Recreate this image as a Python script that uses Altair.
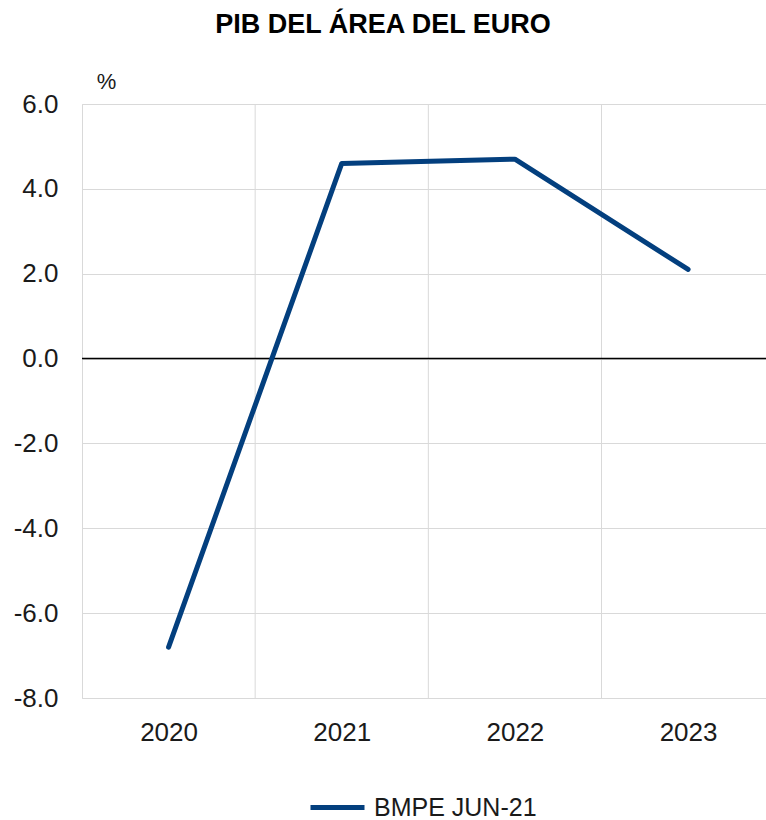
import altair as alt
import pandas as pd

# Euro area GDP growth, June 2021 projections
years = [2020, 2021, 2022, 2023]
gdp_growth = [-6.8, 4.6, 4.7, 2.1]
series_name = "BMPE JUN-21"
year_dividers = [2020.5, 2021.5, 2022.5]

df = pd.DataFrame({"year": years, "value": gdp_growth, "series": series_name})
dividers = pd.DataFrame({"x": year_dividers})
zero = pd.DataFrame({"y": [0]})

FONT = "Liberation Sans"
GRID = "#d9d9d9"
BLUE = "#033f7e"

x_scale = alt.Scale(domain=[2019.5, 2023.45], nice=False, zero=False)
y_scale = alt.Scale(domain=[-8, 6], nice=False)

line = alt.Chart(df).mark_line(strokeWidth=5, strokeCap="round", strokeJoin="round").encode(
    x=alt.X("year:Q", scale=x_scale,
            axis=alt.Axis(values=years, format="d", grid=False, ticks=False, domain=False,
                          labelFont=FONT, labelFontSize=26, labelColor="#1a1a1a",
                          labelPadding=21, title=None)),
    y=alt.Y("value:Q", scale=y_scale,
            axis=alt.Axis(values=[-8, -6, -4, -2, 0, 2, 4, 6], grid=True,
                          labelExpr="datum.value < 0 ? '-' + format(-datum.value, '.1f') : format(datum.value, '.1f')",
                          gridColor=GRID, gridWidth=1, ticks=False,
                          domain=True, domainColor=GRID, domainWidth=1,
                          labelFont=FONT, labelFontSize=26, labelColor="#1a1a1a",
                          labelPadding=24,
                          title="%", titleAngle=0, titleFont=FONT, titleFontSize=22,
                          titleFontWeight="normal", titleColor="#1a1a1a",
                          titleX=24, titleY=-11, titleAlign="center", titleBaseline="bottom")),
    color=alt.Color("series:N", scale=alt.Scale(range=[BLUE]),
                    legend=alt.Legend(title=None, orient="none", legendX=226, legendY=674,
                                      symbolType="stroke", symbolStrokeWidth=5,
                                      symbolSize=2916, labelFont=FONT, labelFontSize=25,
                                      labelLimit=400,
                                      labelColor="#1a1a1a", labelOffset=7, padding=0)),
)

div_rules = alt.Chart(dividers).mark_rule(color=GRID, strokeWidth=1).encode(
    x=alt.X("x:Q", scale=x_scale)
)

zero_rule = alt.Chart(zero).mark_rule(color="#000000", strokeWidth=1.5).encode(
    y=alt.Y("y:Q", scale=y_scale)
)

chart = alt.layer(div_rules, zero_rule, line).properties(
    width=684,
    height=594,
    title=alt.TitleParams("PIB DEL ÁREA DEL EURO", font=FONT, fontSize=27, fontWeight="bold",
                          color="#000000", anchor="middle", dx=-41, offset=31),
    autosize=alt.AutoSizeParams(type="none"),
    padding={"left": 82, "top": 104, "right": 0, "bottom": 122},
).configure_view(stroke=None).configure(background="white")

chart.save("out.html", embed_options={"renderer": "svg", "actions": False})
